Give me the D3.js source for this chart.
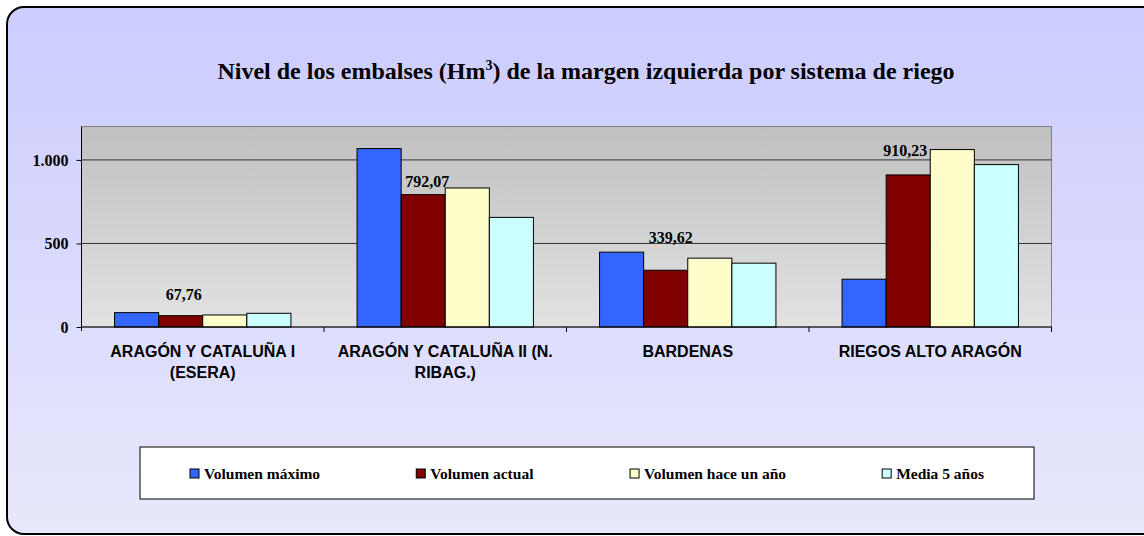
<!DOCTYPE html>
<html>
<head>
<meta charset="utf-8">
<script src="https://cdn.jsdelivr.net/npm/d3@7"></script>
<style>
  body { margin: 0; background: #fff; }
  svg { display: block; }
</style>
</head>
<body>
<div id="chart"></div>
<script>
// data
var categories = ["ARAGÓN Y CATALUÑA I (ESERA)", "ARAGÓN Y CATALUÑA II (N. RIBAG.)", "BARDENAS", "RIEGOS ALTO ARAGÓN"];
var seriesNames = ["Volumen máximo", "Volumen actual", "Volumen hace un año", "Media 5 años"];
var volMaximo = [86, 1068, 448, 286];
var volActual = [67.76, 792.07, 339.62, 910.23];
var volHaceUnAno = [72, 832, 412, 1062];
var media5 = [82, 656, 382, 972];
var yTicks = [0, 500, 1000];

var colors = ["#3366ff", "#800000", "#ffffcc", "#ccffff"];
var values = [volMaximo, volActual, volHaceUnAno, media5];

var W = 1144, H = 536;
var margin = {top: 126.5, left: 81.5, bottom: 209, right: 92.5},
    width = W - margin.left - margin.right,
    height = H - margin.top - margin.bottom;

var loc = d3.formatLocale({decimal: ",", thousands: ".", grouping: [3], currency: ["", ""]});
var fmtTick = loc.format(",d"),
    fmtVal = loc.format(",.2f");

var svg = d3.select("#chart").append("svg")
    .attr("width", W)
    .attr("height", H);

var defs = svg.append("defs");
var bgGrad = defs.append("linearGradient").attr("id", "bg").attr("x1", 0).attr("y1", 0).attr("x2", 0).attr("y2", 1);
bgGrad.append("stop").attr("offset", "0%").attr("stop-color", "#ccccff");
bgGrad.append("stop").attr("offset", "100%").attr("stop-color", "#e8e8fc");
var plotGrad = defs.append("linearGradient").attr("id", "plotbg").attr("x1", 0).attr("y1", 0).attr("x2", 0).attr("y2", 1);
plotGrad.append("stop").attr("offset", "0%").attr("stop-color", "#c0c0c0");
plotGrad.append("stop").attr("offset", "100%").attr("stop-color", "#e2e2e2");

// chart frame
svg.append("rect")
    .attr("x", 7).attr("y", 7)
    .attr("width", 1170).attr("height", 527)
    .attr("rx", 17).attr("ry", 17)
    .style("fill", "url(#bg)")
    .style("stroke", "#000")
    .style("stroke-width", 2);

// title
var title = svg.append("text")
    .attr("x", 586).attr("y", 79)
    .attr("text-anchor", "middle")
    .style("font-family", "'Liberation Serif', 'Times New Roman', serif")
    .style("font-weight", "bold")
    .style("font-size", "24px");
title.append("tspan").text("Nivel de los embalses (Hm");
title.append("tspan").attr("dy", -9).style("font-size", "14px").text("3");
title.append("tspan").attr("dy", 9).text(") de la margen izquierda por sistema de riego");

var g = svg.append("g")
    .attr("transform", "translate(" + margin.left + "," + margin.top + ")");

var x0 = d3.scaleBand()
    .domain(categories)
    .range([0, width]);

var x1 = d3.scaleBand()
    .domain(d3.range(seriesNames.length))
    .range([0, x0.bandwidth()])
    .paddingOuter(0.75);

var y = d3.scaleLinear()
    .domain([0, 1200])
    .range([height, 0]);

// plot area
g.append("rect")
    .attr("width", width).attr("height", height)
    .style("fill", "url(#plotbg)")
    .style("stroke", "#808080");

// gridlines
g.selectAll(".grid")
    .data(yTicks.filter(function(d) { return d > 0; }))
    .enter().append("line")
    .attr("class", "grid")
    .attr("x1", 0).attr("x2", width)
    .attr("y1", function(d) { return y(d); })
    .attr("y2", function(d) { return y(d); })
    .style("stroke", "#333")
    .style("stroke-width", 1);

// bars
var groups = g.selectAll(".cat")
    .data(categories)
    .enter().append("g")
    .attr("class", "cat")
    .attr("transform", function(d) { return "translate(" + x0(d) + ",0)"; });

groups.selectAll("rect")
    .data(function(d, i) { return values.map(function(v, s) { return {s: s, v: v[i]}; }); })
    .enter().append("rect")
    .attr("x", function(d) { return x1(d.s); })
    .attr("width", x1.bandwidth())
    .attr("y", function(d) { return y(d.v); })
    .attr("height", function(d) { return height - y(d.v); })
    .style("fill", function(d) { return colors[d.s]; })
    .style("stroke", "#000")
    .style("stroke-width", 1);

// data labels on "Volumen actual" (moved by hand in the original)
var labelNudge = [[3, -16], [4, -8], [5, -27], [-3, -19]];
g.selectAll(".vlabel")
    .data(volActual)
    .enter().append("text")
    .attr("class", "vlabel")
    .attr("x", function(d, i) { return x0(categories[i]) + x1(1) + x1.bandwidth() / 2 + labelNudge[i][0]; })
    .attr("y", function(d, i) { return y(d) + labelNudge[i][1]; })
    .attr("text-anchor", "middle")
    .style("font-family", "'Liberation Serif', 'Times New Roman', serif")
    .style("font-weight", "bold")
    .style("font-size", "16px")
    .text(function(d) { return fmtVal(d); });

// y axis
var yAxis = g.append("g")
    .attr("class", "axis axis--y")
    .call(d3.axisLeft(y).tickValues(yTicks).tickSize(5).tickPadding(8).tickFormat(fmtTick));
yAxis.select(".domain").attr("d", "M0,0V" + (height + 4)).style("stroke", "#000");
yAxis.selectAll("line").style("stroke", "#000");
yAxis.selectAll("text")
    .style("font-family", "'Liberation Serif', 'Times New Roman', serif")
    .style("font-weight", "bold")
    .style("font-size", "16px")
    .style("fill", "#000");

// x axis
var xAxis = g.append("g")
    .attr("class", "axis axis--x")
    .attr("transform", "translate(0," + height + ")");
xAxis.append("line")
    .attr("x1", 0).attr("x2", width)
    .style("stroke", "#000");
xAxis.selectAll(".xtick")
    .data(categories.map(function(c) { return x0(c) + x0.bandwidth(); }))
    .enter().append("line")
    .attr("class", "xtick")
    .attr("x1", function(d) { return d; }).attr("x2", function(d) { return d; })
    .attr("y1", 0).attr("y2", 5)
    .style("stroke", "#000");

xAxis.selectAll(".xlabel")
    .data(categories)
    .enter().append("text")
    .attr("class", "xlabel")
    .attr("x", function(d) { return x0(d) + x0.bandwidth() / 2; })
    .attr("y", 29.5)
    .attr("text-anchor", "middle")
    .style("font-family", "'Liberation Sans', Arial, sans-serif")
    .style("font-weight", "bold")
    .style("font-size", "16px")
    .text(function(d) { return d; })
    .call(wrap, 232, 21.6);

function wrap(text, w, lh) {
    text.each(function() {
        var t = d3.select(this),
            words = t.text().split(/\s+/).reverse(),
            word, line = [], lineNo = 0,
            xx = t.attr("x"), yy = t.attr("y"),
            tspan = t.text(null).append("tspan").attr("x", xx).attr("y", yy);
        while ((word = words.pop())) {
            line.push(word);
            tspan.text(line.join(" "));
            if (tspan.node().getComputedTextLength() > w && line.length > 1) {
                line.pop();
                tspan.text(line.join(" "));
                line = [word];
                lineNo++;
                tspan = t.append("tspan").attr("x", xx).attr("y", +yy + lineNo * lh).text(word);
            }
        }
    });
}

// legend
var lg = {x: 140, y: 447, w: 894, h: 52};
var legend = svg.append("g").attr("transform", "translate(" + lg.x + "," + lg.y + ")");
legend.append("rect")
    .attr("width", lg.w).attr("height", lg.h)
    .style("fill", "#fff")
    .style("stroke", "#000");

var items = legend.selectAll(".litem")
    .data(seriesNames)
    .enter().append("g")
    .attr("class", "litem");
items.append("rect")
    .attr("width", 9).attr("height", 9)
    .attr("y", 22)
    .style("fill", function(d, i) { return colors[i]; })
    .style("stroke", "#000");
items.append("text")
    .attr("x", 14).attr("y", 31.5)
    .style("font-family", "'Liberation Serif', 'Times New Roman', serif")
    .style("font-weight", "bold")
    .style("font-size", "15.5px")
    .text(function(d) { return d; });

var widths = [];
items.each(function() { widths.push(this.getBBox().width); });
var pad = 50;
var gap = (lg.w - 2 * pad - d3.sum(widths)) / (widths.length - 1);
var pos = pad;
items.attr("transform", function(d, i) {
    var p = pos;
    pos += widths[i] + gap;
    return "translate(" + p + ",0)";
});
</script>
</body>
</html>
